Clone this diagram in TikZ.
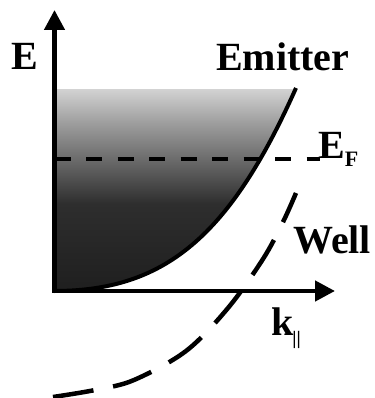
\documentclass[tikz,border=0pt]{standalone}
\usepackage{fontspec}
\setmainfont{Liberation Serif}
\usetikzlibrary{arrows.meta}
\pgfdeclareverticalshading{emitshade}{100bp}{color(0bp)=(black!88); color(25bp)=(black!88); color(47bp)=(black!82); color(57bp)=(black!60); color(67bp)=(black!38); color(75bp)=(black!18); color(100bp)=(black!18)}
\begin{document}
\begin{tikzpicture}[x=1pt,y=-1pt,
  axisline/.style={line width=4.5pt, line cap=rect, -{Triangle[length=20pt,width=20pt]}},
  lbl/.style={font=\fontsize{40}{40}\selectfont\bfseries, inner sep=0pt, anchor=base west},
  emitcurve/.style={line width=4pt},
  fermidash/.style={line width=3.5pt, dash pattern=on 16pt off 15.5pt},
  welldash/.style={line width=4.5pt, dash pattern=on 41pt off 20pt}]
\useasboundingbox (0,0) rectangle (374,398);
% coordinates
\coordinate (O) at (54.5,291);
\coordinate (Etip) at (54.5,10);
\coordinate (Ktip) at (335,291);
\coordinate (Ctop) at (296,88);
\coordinate (EFa) at (54.5,159);
\coordinate (EFb) at (320,159);
% shaded occupied states
\begin{scope}
  \clip (O) .. controls (165,291) and (230,236) .. (Ctop) -- (54.5,88) -- cycle;
  \shade[shading=emitshade] (52,90) rectangle (300,293);
\end{scope}
% Fermi level
\draw[fermidash] (EFa) -- (EFb);
% emitter dispersion
\draw[emitcurve] (O) .. controls (165,291) and (230,236) .. (Ctop);
% well dispersion
\draw[welldash] plot[smooth, tension=0.55] coordinates {(53,397) (95,390) (134,380) (186,351) (228,308) (263,259) (283,222) (296,193)};
% axes
\draw[axisline] (O) -- (Etip);
\draw[axisline] (O) -- (Ktip);
% labels
\node[lbl] (axisE) at (11,70) {E};
\node[lbl] (emitterlbl) at (216,71) {Emitter};
\node[lbl] (eflbl) at (318,158) {E\raisebox{-8pt}{\fontsize{22}{22}\selectfont F}};
\node[lbl] (welllbl) at (293,253) {Well};
\node[lbl] (klbl) at (271,335) {k\kern-1pt\raisebox{-9pt}{\fontsize{19}{19}\selectfont ||}};
\end{tikzpicture}
\end{document}
